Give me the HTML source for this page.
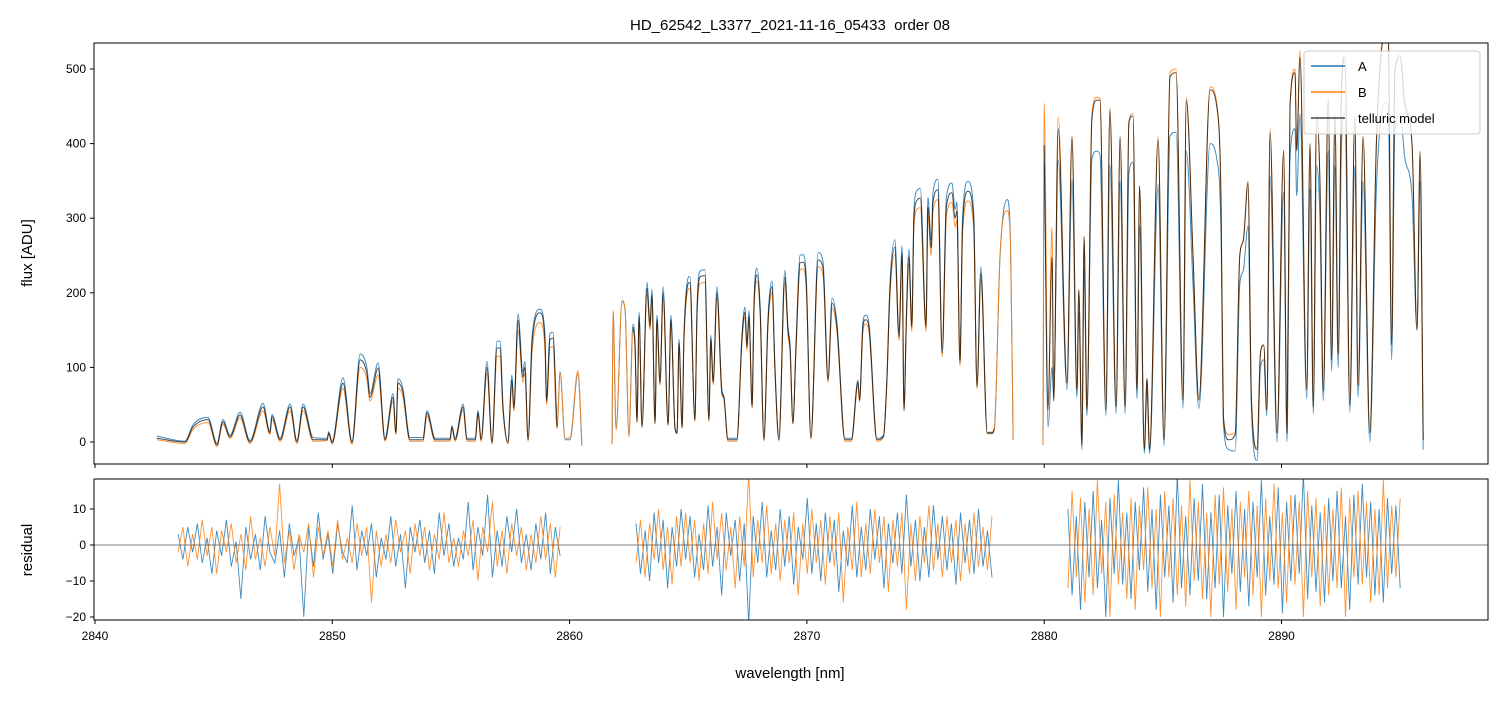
<!DOCTYPE html>
<html><head><meta charset="utf-8"><style>
body{margin:0;background:#fff;}
svg text{font-family:"Liberation Sans","DejaVu Sans",sans-serif;fill:#000;}
</style></head><body>
<svg id="chart" width="1502" height="696" viewBox="0 0 1502 696" xmlns="http://www.w3.org/2000/svg">
<defs>
<clipPath id="clipTop"><rect x="94" y="43" width="1394" height="421"/></clipPath>
<clipPath id="clipBot"><rect x="94" y="479" width="1394" height="141"/></clipPath>
</defs>
<rect width="1502" height="696" fill="#fff"/>
<text x="790" y="30" text-anchor="middle" font-size="15">HD_62542_L3377_2021-11-16_05433&#160; order 08</text>
<g id="topPlot" clip-path="url(#clipTop)"></g>
<g id="botPlot" clip-path="url(#clipBot)"></g>
<g id="axes"></g>
<text transform="translate(32,253) rotate(-90)" text-anchor="middle" font-size="15">flux [ADU]</text>
<text transform="translate(32,550) rotate(-90)" text-anchor="middle" font-size="15">residual</text>
<text x="790" y="678" text-anchor="middle" font-size="15">wavelength [nm]</text>
<g>
<rect x="1304" y="51" width="176" height="83" rx="3" fill="#fff" fill-opacity="0.8" stroke="#ccc"/>
<g><line x1="1311" y1="66" x2="1345" y2="66" stroke="#1f77b4" stroke-width="1.5"/><text x="1358" y="71" font-size="13">A</text></g>
<g><line x1="1311" y1="92" x2="1345" y2="92" stroke="#ff7f0e" stroke-width="1.5"/><text x="1358" y="97" font-size="13">B</text></g>
<g><line x1="1311" y1="118" x2="1345" y2="118" stroke="#444" stroke-width="1.5"/><text x="1358" y="123" font-size="13">telluric model</text></g>
</g>
</svg>
<script>
const wl=[2842.61,2843.79,2844.13,2844.76,2845.14,2845.39,2845.69,2846.11,2846.53,2847.08,2847.37,2847.46,2847.80,2848.22,2848.51,2848.77,2849.19,2849.78,2849.85,2849.99,2850.45,2850.83,2851.17,2851.46,2851.59,2851.93,2852.22,2852.56,2852.68,2852.77,2852.98,2853.27,2853.82,2853.99,2854.33,2854.96,2855.04,2855.17,2855.51,2855.68,2856.02,2856.14,2856.27,2856.52,2856.73,2856.94,2857.07,2857.19,2857.40,2857.57,2857.65,2857.83,2858.03,2858.11,2858.25,2858.42,2858.75,2858.96,2859.03,2859.17,2859.30,2859.47,2859.60,2859.81,2860.02,2860.35,2860.52,
null,
2861.79,2861.83,2861.96,2862.21,2862.34,2862.50,2862.67,2862.76,2862.84,2862.93,2863.05,2863.26,2863.39,2863.47,2863.60,2863.68,2863.81,2863.94,2864.15,2864.27,2864.44,2864.53,2864.61,2864.74,2864.82,2865.07,2865.28,2865.37,2865.49,2865.70,2865.87,2865.95,2866.05,2866.21,2866.42,2866.50,2866.67,2867.05,2867.26,2867.39,2867.47,2867.56,2867.69,2867.77,2867.90,2868.03,2868.19,2868.36,2868.53,2868.65,2868.82,2869.07,2869.20,2869.29,2869.41,2869.54,2869.71,2869.85,2869.98,2870.17,2870.47,2870.68,2870.89,2871.06,2871.27,2871.60,2871.88,2872.15,2872.22,2872.36,2872.47,2872.61,2872.95,2873.23,2873.37,2873.50,2873.71,2873.88,2874.01,2874.09,2874.20,2874.30,2874.42,2874.51,2874.64,2874.78,2875.02,2875.10,2875.24,2875.31,2875.52,2875.70,2875.88,2876.11,2876.25,2876.32,2876.45,2876.56,2876.79,2877.03,2877.17,2877.33,2877.60,2877.81,2877.90,2878.14,2878.44,2878.58,2878.69,
null,
2879.95,2880.00,2880.16,2880.33,2880.40,2880.59,2880.96,2881.17,2881.38,2881.46,2881.59,2881.68,2881.80,2882.01,2882.22,2882.35,2882.60,2882.77,2883.03,2883.20,2883.41,2883.57,2883.74,2883.91,2884.02,2884.22,2884.33,2884.44,2884.80,2885.05,2885.30,2885.56,2885.85,2885.99,2886.27,2886.52,2886.99,2887.27,2887.45,2887.55,2887.77,2888.05,2888.24,2888.39,2888.59,2888.73,2888.97,2889.11,2889.25,2889.38,2889.52,2889.81,2890.09,2890.23,2890.36,2890.57,2890.64,2890.78,2891.06,2891.20,2891.34,2891.48,2891.62,2891.76,2891.97,2892.11,2892.25,2892.39,2892.53,2892.67,2892.88,2893.09,2893.23,2893.44,2893.72,2894.00,2894.36,2894.50,2894.64,2894.78,2895.00,2895.20,2895.50,2895.71,2895.84,2895.97];
const modelFlux=[5,0,20,30,-4,27,7,36,0,47,12,34,3,47,0,47,3,3,12,-1,79,-1,110,92,60,99,3,60,12,79,66,3,3,39,3,3,20,3,47,3,3,39,3,100,-1,126,126,47,-1,83,45,163,87,100,3,133,173,137,55,137,139,20,null,null,null,null,null,
null,
null,null,null,null,null,null,154,127,27,168,20,206,155,197,25,164,79,200,23,164,19,12,133,19,141,214,29,173,221,223,29,138,80,200,66,60,3,3,137,174,127,169,47,180,224,174,3,160,208,100,3,221,150,125,25,127,240,241,208,5,244,233,83,186,153,3,3,80,56,154,164,155,3,8,83,204,261,141,253,43,175,248,154,298,324,327,154,315,260,320,338,119,315,334,300,310,106,290,336,297,74,226,12,12,18,null,null,null,null,
null,
null,398,43,248,55,420,79,409,70,204,-4,275,43,432,458,458,43,445,47,409,47,428,437,70,343,-10,85,-10,405,3,489,495,56,458,250,56,472,450,326,34,3,10,248,270,347,59,-10,118,130,43,414,12,390,12,449,495,390,516,70,400,47,437,351,68,458,110,437,118,472,516,50,437,75,409,12,400,545,540,130,495,516,450,400,150,390,3];
const fluxA=[8,1,23,33,-2,30,9,40,2,52,14,37,5,51,2,51,6,5,14,1,86,1,118,99,65,106,5,65,14,85,71,6,6,42,5,5,22,5,51,5,5,42,5,108,1,135,135,51,1,90,49,172,94,108,5,142,178,145,60,145,147,22,94,3,3,92,-5,
null,
-1,175,18,188,176,8,158,131,28,174,21,214,161,205,26,170,82,208,24,170,20,13,138,20,146,222,30,180,229,231,30,143,83,208,69,62,5,5,142,181,132,176,49,187,233,181,5,166,216,104,5,230,156,130,26,132,250,251,216,6,254,242,86,193,159,5,5,83,58,160,170,161,5,9,86,212,271,147,263,45,182,258,160,310,337,340,160,328,270,333,352,124,328,347,312,322,110,302,349,309,77,235,13,13,19,250,325,270,3,
null,
-4,374,20,100,60,378,70,351,60,175,-10,236,35,380,390,385,35,372,38,350,38,360,375,58,290,-15,70,-15,345,-5,410,415,45,390,210,45,400,380,280,25,-10,-12,210,230,290,45,-25,100,110,35,357,0,335,0,380,420,330,440,58,340,38,370,300,55,390,95,370,100,400,440,40,370,60,350,0,340,455,450,110,420,440,380,330,150,350,-10];
const fluxB=[3,-2,17,26,-6,24,5,32,-2,42,10,30,1,42,-2,42,1,2,11,-3,72,-3,100,84,55,90,1,55,10,72,60,1,1,35,1,1,18,1,43,1,1,35,1,92,-3,115,115,43,-3,76,41,150,80,92,1,122,160,126,50,126,128,18,92,5,6,96,0,
null,
-3,177,16,190,177,7,150,124,26,164,19,198,150,190,24,158,76,193,22,158,18,11,128,18,136,206,28,167,212,214,28,133,77,193,63,58,1,1,132,168,122,163,45,174,216,168,1,154,200,96,1,213,145,120,24,122,231,232,200,4,235,224,80,179,147,1,1,77,54,148,158,149,1,7,80,196,251,136,243,41,168,238,148,287,312,314,148,303,250,308,325,114,303,321,288,298,102,279,323,285,71,217,11,11,17,253,310,268,3,
null,
-4,454,50,288,55,436,80,409,70,204,-4,275,43,440,462,460,43,448,47,409,47,430,440,70,343,-8,85,-8,410,3,495,500,56,462,250,56,476,455,326,34,10,12,250,270,350,60,-8,118,130,43,420,12,392,12,452,500,392,525,70,400,47,440,351,68,462,110,440,118,476,520,50,440,75,410,12,405,555,550,130,500,520,455,400,150,385,3];

const resStart=[2843.5,2862.8,2881.0];
const resEnd=[2859.6,2877.8,2895.0];
const resA1=[3,-4,5,-2,6,-5,2,-8,4,-3,7,-6,1,-15,5,-4,3,-7,8,-2,-5,4,-9,6,-3,2,-20,5,-6,9,-4,3,-8,6,-2,-5,11,-7,4,-3,6,-9,2,-4,8,-6,3,-12,5,-2,7,-5,4,-8,9,-3,6,-6,2,-4,12,-7,5,-3,14,-9,4,-6,8,-2,10,-5,3,-7,6,-4,9,-8,5,-3];
const resB1=[-2,5,-6,3,-4,7,-3,5,-8,4,-2,6,-5,3,-7,8,-4,2,-6,5,-3,17,-5,4,-7,3,-2,6,-9,5,-3,4,-6,7,-4,2,-5,6,-3,5,-16,4,-6,3,-5,7,-2,4,-8,6,-3,5,-7,3,-4,9,-5,2,-6,4,-3,7,-10,5,-2,12,-6,4,-8,6,-3,5,-7,3,-5,8,-4,6,-9,5];
const resA2=[6,-8,4,-10,9,-5,7,-12,5,-6,10,-4,8,-9,3,-7,11,-6,5,-14,9,-3,7,-10,6,-22,8,-5,12,-9,4,-7,10,-6,8,-11,5,-4,13,-8,6,-10,9,-5,7,-13,4,-6,11,-9,5,-7,10,-4,8,-12,6,-5,9,-8,14,-6,7,-10,5,-9,11,-4,8,-7,6,-11,9,-5,7,-8,10,-6,4,-9];
const resB2=[-5,7,-9,6,-4,10,-7,5,-11,8,-6,9,-5,7,-10,6,-8,12,-4,9,-7,5,-12,8,-6,20,-9,7,-5,11,-8,6,-10,7,-5,9,-14,6,-8,10,-5,7,-11,8,-6,9,-16,5,-7,12,-9,6,-8,10,-5,8,-13,7,-6,9,-18,6,-10,8,-5,11,-7,6,-9,8,-5,7,-10,6,-8,9,-6,5,-7,8];
const resA3=[10,-14,8,-18,12,-9,15,-12,7,-20,13,-8,18,-11,9,-15,12,-7,16,-13,10,-18,14,-9,11,-16,20,-12,8,-14,13,-10,17,-15,9,-12,14,-20,11,-8,15,-13,10,-17,12,-9,18,-14,8,-11,16,-19,12,-10,14,-8,20,-15,11,-13,9,-16,13,-10,15,-12,8,-18,14,-11,17,-9,12,-14,10,-16,13,-8,11,-12];
const resB3=[-12,15,-9,13,-16,10,-14,18,-8,12,-20,14,-11,9,-15,13,-18,11,-7,16,-12,10,-20,15,-9,13,-14,11,-17,18,-10,12,-15,9,-20,14,-11,16,-13,10,-18,12,-9,15,-14,11,-20,13,-10,17,-12,9,-16,14,-11,12,-20,15,-9,13,-17,11,-14,10,-12,16,-20,13,-9,15,-11,12,-16,10,-14,18,-12,11,-9,13];
const xTicks=[2840,2850,2860,2870,2880,2890];
const yTicksTop=[0,100,200,300,400,500];
const yTicksBot=[10,0,-10,-20];

const NS='http://www.w3.org/2000/svg';
function xs(w){return 95+(w-2840)*23.73;}
function ysTop(f){return 442-f*0.746;}
function ysBot(r){return 545-r*3.6;}
function mk(tag,attrs,parent){const e=document.createElementNS(NS,tag);for(const k in attrs)e.setAttribute(k,attrs[k]);parent.appendChild(e);return e;}
function pathFrom(xv,yv,ys){let d='',pen=false;for(let i=0;i<xv.length;i++){if(xv[i]===null||yv[i]===null||yv[i]===undefined){pen=false;continue;}const X=xs(xv[i]).toFixed(1),Y=ys(yv[i]).toFixed(1);d+=(pen?'L':'M')+X+','+Y;pen=true;}return d;}
// monotone cubic (Fritsch-Carlson) smooth path through runs of valid points
function smoothRun(P){
  const n=P.length;if(n<2)return '';
  if(n===2)return 'M'+P[0][0].toFixed(1)+','+P[0][1].toFixed(1)+'L'+P[1][0].toFixed(1)+','+P[1][1].toFixed(1);
  const dx=[],s=[];
  for(let i=0;i<n-1;i++){dx.push(P[i+1][0]-P[i][0]);s.push((P[i+1][1]-P[i][1])/(dx[i]||1e-6));}
  const m=[s[0]];
  for(let i=1;i<n-1;i++){m.push(s[i-1]*s[i]<=0?0:(s[i-1]+s[i])/2);}
  m.push(s[n-2]);
  for(let i=0;i<n-1;i++){
    if(s[i]===0){m[i]=0;m[i+1]=0;continue;}
    const a=m[i]/s[i],b=m[i+1]/s[i],h=a*a+b*b;
    if(h>9){const t=3/Math.sqrt(h);m[i]=t*a*s[i];m[i+1]=t*b*s[i];}
  }
  let d='M'+P[0][0].toFixed(1)+','+P[0][1].toFixed(1);
  for(let i=0;i<n-1;i++){
    const h=dx[i]/3;
    d+='C'+(P[i][0]+h).toFixed(1)+','+(P[i][1]+m[i]*h).toFixed(1)+' '+(P[i+1][0]-h).toFixed(1)+','+(P[i+1][1]-m[i+1]*h).toFixed(1)+' '+P[i+1][0].toFixed(1)+','+P[i+1][1].toFixed(1);
  }
  return d;
}
function smoothPath(xv,yv,ys){
  let d='',run=[];
  for(let i=0;i<xv.length;i++){
    if(xv[i]===null||yv[i]===null||yv[i]===undefined){d+=smoothRun(run);run=[];continue;}
    run.push([xs(xv[i]),ys(yv[i])]);
  }
  d+=smoothRun(run);return d;
}
const topG=document.getElementById('topPlot');
const botG=document.getElementById('botPlot');
const axG=document.getElementById('axes');

let p=mk('path',{d:smoothPath(wl,fluxA,ysTop),fill:'none',stroke:'#1f77b4','stroke-width':1,'stroke-opacity':0.85},topG);


p=mk('path',{d:smoothPath(wl,fluxB,ysTop),fill:'none',stroke:'#ff7f0e','stroke-width':1,'stroke-opacity':0.85},topG);


p=mk('path',{d:smoothPath(wl,modelFlux,ysTop),fill:'none',stroke:'#000','stroke-width':1,'stroke-opacity':0.7},topG);



const resAll=[[resA1,resB1],[resA2,resB2],[resA3,resB3]];
for(let k=0;k<2;k++){
  for(let s=0;s<3;s++){
    const r=resAll[s][k];const xv=[];
    for(let i=0;i<r.length;i++)xv.push(resStart[s]+(resEnd[s]-resStart[s])*i/(r.length-1));
    const q=mk('path',{d:pathFrom(xv,r,ysBot),fill:'none',stroke:k?'#ff7f0e':'#1f77b4','stroke-width':0.9,'stroke-opacity':0.85},botG);
    
    
  }
}
const z=mk('line',{x1:94,x2:1488,y1:ysBot(0),y2:ysBot(0),stroke:'#555','stroke-width':0.7},botG);



const f1=mk('rect',{x:94,y:43,width:1394,height:421,fill:'none',stroke:'#000','stroke-width':1},axG);


const f2=mk('rect',{x:94,y:479,width:1394,height:141,fill:'none',stroke:'#000','stroke-width':1},axG);


xTicks.forEach(t=>{
  const X=xs(t);
  mk('line',{x1:X,x2:X,y1:464,y2:468,stroke:'#000'},axG);
  mk('line',{x1:X,x2:X,y1:620,y2:624,stroke:'#000'},axG);
  const tx=mk('text',{x:X,y:640,'text-anchor':'middle','font-size':12},axG);
  tx.textContent=t;
  
  
});
yTicksTop.forEach(t=>{
  const Y=ysTop(t);
  mk('line',{x1:90,x2:94,y1:Y,y2:Y,stroke:'#000'},axG);
  const tx=mk('text',{x:86,y:Y+4,'text-anchor':'end','font-size':12},axG);
  tx.textContent=t;
  
  
});
yTicksBot.forEach(t=>{
  const Y=ysBot(t);
  mk('line',{x1:90,x2:94,y1:Y,y2:Y,stroke:'#000'},axG);
  const tx=mk('text',{x:86,y:Y+4,'text-anchor':'end','font-size':12},axG);
  tx.textContent=t===0?'0':(t<0?'\u2212'+(-t):t);
  
  
});
</script>
</body></html>
